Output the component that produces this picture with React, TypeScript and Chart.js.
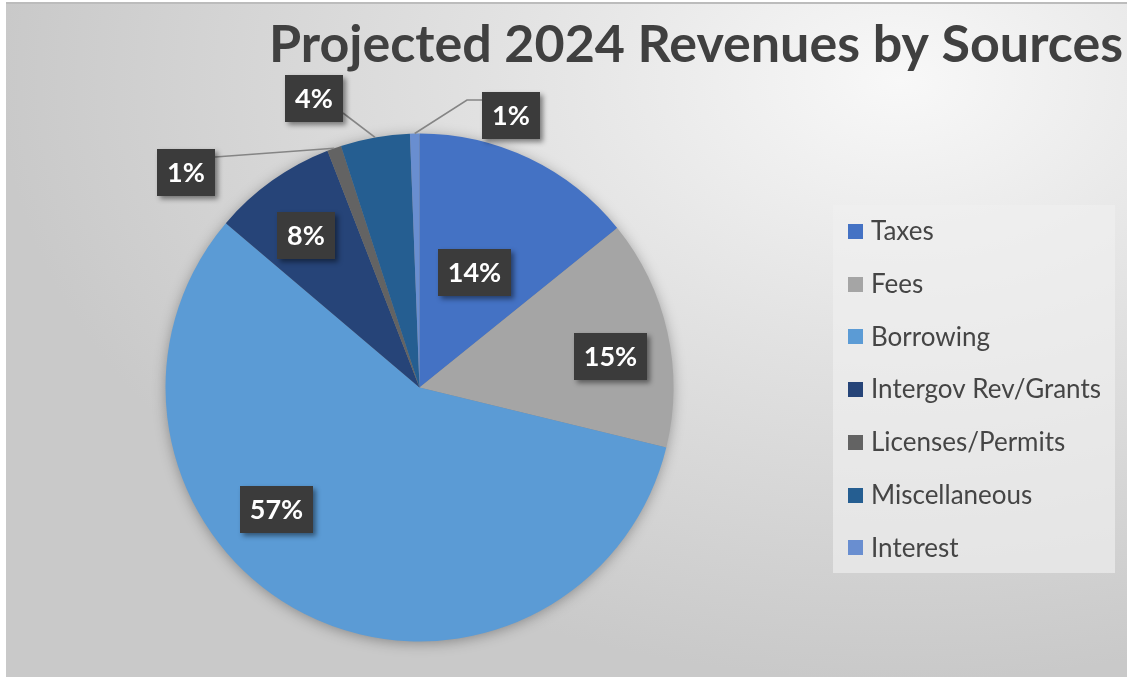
import React, { useEffect, useRef } from "react";
import { Chart, registerables } from "chart.js";

Chart.register(...registerables);

const titleText = "Projected 2024 Revenues by Sources";
const categories = [
  "Taxes",
  "Fees",
  "Borrowing",
  "Intergov Rev/Grants",
  "Licenses/Permits",
  "Miscellaneous",
  "Interest",
];
const shares = [14.2, 14.6, 57.4, 7.9, 0.9, 4.4, 0.6];
const sliceColors = ["#4472C4", "#A5A5A5", "#5B9BD5", "#264478", "#636363", "#255E91", "#698ED0"];

// label placement: angular shift (deg) from slice middle, radius factor, leader line options
const labelPlacement = [
  { shift: 0, f: 0.5 },
  { shift: 3.5, f: 0.76 },
  { shift: 22.6, f: 0.74 },
  { shift: -1.3, f: 0.745 },
  { shift: -27.7, f: 1.25, leader: { attach: "top", elbow: 0 } },
  { shift: -9.9, f: 1.21, leader: { attach: "bottom", elbow: 0 } },
  { shift: 19.7, f: 1.13, leader: { attach: "top", elbow: 15 } },
];

const W = 1127;
const H = 679;
const FONT = "Lato, 'Open Sans', 'DejaVu Sans', sans-serif";

const backgroundPlugin = {
  id: "bgPlugin",
  beforeDraw(chart: any) {
    const ctx = chart.ctx as CanvasRenderingContext2D;
    ctx.save();
    ctx.fillStyle = "#ffffff";
    ctx.fillRect(0, 0, W, H);
    ctx.beginPath();
    ctx.rect(6, 2, W - 6, 675);
    ctx.clip();
    ctx.translate(900, 80);
    ctx.scale(1, 600 / 900);
    const g = ctx.createRadialGradient(0, 0, 0, 0, 0, 900);
    g.addColorStop(0, "#f8f8f8");
    g.addColorStop(0.45, "#e2e2e2");
    g.addColorStop(1, "#c9c9c9");
    ctx.fillStyle = g;
    ctx.fillRect(-2000, -2000, 4000, 4000);
    ctx.restore();
    ctx.save();
    ctx.strokeStyle = "#bcbcbc";
    ctx.lineWidth = 2;
    ctx.beginPath();
    ctx.moveTo(6, 3);
    ctx.lineTo(W, 3);
    ctx.stroke();
    ctx.restore();
  },
  beforeDatasetsDraw(chart: any) {
    const meta = chart.getDatasetMeta(0);
    const a = meta.data[0];
    if (!a) return;
    const ctx = chart.ctx as CanvasRenderingContext2D;
    ctx.save();
    ctx.shadowColor = "rgba(0,0,0,0.35)";
    ctx.shadowBlur = 14;
    ctx.shadowOffsetY = 2;
    ctx.fillStyle = "#888888";
    ctx.beginPath();
    ctx.arc(a.x, a.y, a.outerRadius - 1, 0, Math.PI * 2);
    ctx.fill();
    ctx.restore();
  },
  afterDatasetsDraw(chart: any) {
    const ctx = chart.ctx as CanvasRenderingContext2D;
    const meta = chart.getDatasetMeta(0);
    const data = chart.data.datasets[0].data as number[];
    const total = data.reduce((s, v) => s + v, 0);
    ctx.save();
    ctx.font = `bold 27px ${FONT}`;
    meta.data.forEach((arc: any, i: number) => {
      const p = labelPlacement[i];
      const mid = (arc.startAngle + arc.endAngle) / 2;
      const ang = mid + (p.shift * Math.PI) / 180;
      const r = arc.outerRadius;
      const cx = arc.x + Math.cos(ang) * r * p.f;
      const cy = arc.y + Math.sin(ang) * r * p.f;
      const text = Math.round((data[i] / total) * 100) + "%";
      const tw = ctx.measureText(text).width;
      const bw = Math.round(tw + 20);
      const bh = 47;
      const left = Math.round(cx - bw / 2);
      const top = Math.round(cy - bh / 2);
      if (p.leader) {
        const ex = arc.x + Math.cos(mid) * r;
        const ey = arc.y + Math.sin(mid) * r;
        let ax: number;
        let dir: number;
        if (ex > left + bw) {
          ax = left + bw;
          dir = 1;
        } else {
          ax = left;
          dir = -1;
        }
        const ay = p.leader.attach === "top" ? top + 8 : top + bh - 9;
        ctx.save();
        ctx.strokeStyle = "#858585";
        ctx.lineWidth = 1.6;
        ctx.beginPath();
        ctx.moveTo(ax, ay);
        if (p.leader.elbow) ctx.lineTo(ax + dir * p.leader.elbow, ay);
        ctx.lineTo(ex, ey);
        ctx.stroke();
        ctx.restore();
      }
      ctx.save();
      ctx.shadowColor = "rgba(0,0,0,0.45)";
      ctx.shadowBlur = 5;
      ctx.shadowOffsetX = 3;
      ctx.shadowOffsetY = 3;
      ctx.fillStyle = "#3b3b3b";
      ctx.fillRect(left, top, bw, bh);
      ctx.restore();
      ctx.fillStyle = "#ffffff";
      ctx.textAlign = "center";
      ctx.textBaseline = "middle";
      ctx.fillText(text, left + bw / 2, top + bh / 2 + 1);
    });
    ctx.restore();
  },
  afterDraw(chart: any) {
    const ctx = chart.ctx as CanvasRenderingContext2D;
    ctx.save();
    // title
    ctx.font = `bold 52px ${FONT}`;
    ctx.fillStyle = "#404040";
    ctx.textAlign = "center";
    ctx.textBaseline = "alphabetic";
    ctx.fillText(titleText, 696, 62);
    // legend
    ctx.fillStyle = "rgba(240,240,240,0.65)";
    ctx.fillRect(833, 205, 282, 368);
    ctx.font = `26px ${FONT}`;
    ctx.textAlign = "left";
    ctx.textBaseline = "middle";
    const labels = chart.data.labels as string[];
    const colors = chart.data.datasets[0].backgroundColor as string[];
    labels.forEach((lab, i) => {
      const y = 231 + i * 52.7;
      ctx.fillStyle = colors[i];
      ctx.fillRect(848, Math.round(y - 7), 15, 15);
      ctx.fillStyle = "#454545";
      ctx.fillText(lab, 871, y + 1);
    });
    ctx.restore();
  },
};

export default function App() {
  const ref = useRef<HTMLCanvasElement | null>(null);
  useEffect(() => {
    if (!ref.current) return;
    const chart = new Chart(ref.current, {
      type: "pie",
      data: {
        labels: categories,
        datasets: [
          {
            data: shares,
            backgroundColor: sliceColors,
            borderWidth: 0,
          },
        ],
      },
      options: {
        responsive: false,
        animation: false,
        layout: { padding: { left: 165.5, top: 133.5, right: 453.5, bottom: 37.5 } },
        plugins: {
          legend: { display: false },
          title: { display: false },
          tooltip: { enabled: false },
        },
      },
      plugins: [backgroundPlugin],
    });
    return () => chart.destroy();
  }, []);
  return (
    <div style={{ position: "fixed", left: 0, top: 0, width: W, height: H }}>
      <canvas ref={ref} width={W} height={H} style={{ display: "block", width: W, height: H }} />
    </div>
  );
}
